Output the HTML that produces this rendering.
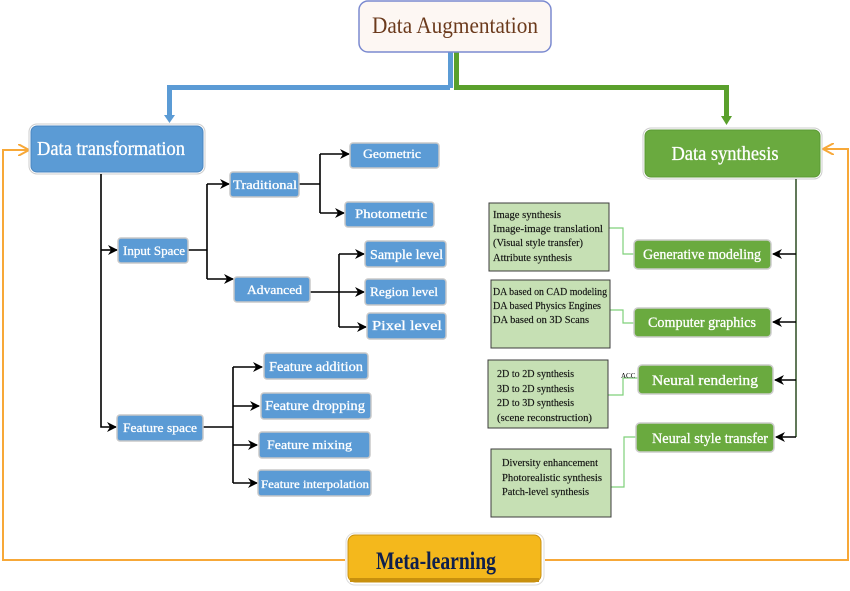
<!DOCTYPE html>
<html><head><meta charset="utf-8"><style>
html,body{margin:0;padding:0;background:#fff}
svg{display:block}
text{font-family:"Liberation Serif",serif}
</style></head><body>
<svg width="850" height="591" viewBox="0 0 850 591" xmlns="http://www.w3.org/2000/svg">
<defs>
<marker id="ak" markerWidth="10" markerHeight="10" refX="9" refY="5" orient="auto" markerUnits="userSpaceOnUse"><path d="M0,0 L10,5 L0,10 L3,5 Z" fill="#000"/></marker>
<marker id="ao" markerWidth="12" markerHeight="12" refX="11" refY="6" orient="auto" markerUnits="userSpaceOnUse"><path d="M0,0 L11,6 L0,12" fill="none" stroke="#f7a838" stroke-width="2"/></marker>
</defs>

<!-- top connector -->
<rect x="448" y="52" width="5" height="36" fill="#5b9bd5"/>
<rect x="454" y="52" width="5" height="36" fill="#5aa02c"/>
<rect x="170" y="85" width="280" height="5" fill="#5b9bd5"/>
<rect x="454" y="85" width="273" height="5" fill="#5aa02c"/>
<rect x="167" y="85" width="5" height="32" fill="#5b9bd5"/>
<path d="M164,115 L169.5,123 L175,115 Z" fill="#5b9bd5"/>
<rect x="724" y="85" width="5" height="33" fill="#5aa02c"/>
<path d="M721,116 L726.5,125 L732,116 Z" fill="#5aa02c"/>

<rect x="359" y="1" width="192" height="51" rx="9" fill="#fdf7f3" stroke="#7b8ad0" stroke-width="1.5"/>
<text x="455" y="33" font-size="23" fill="#6b3a1c" text-anchor="middle" textLength="166" lengthAdjust="spacingAndGlyphs">Data Augmentation</text>

<!-- orange loop -->
<path d="M345,560 L3,560 L3,150 L29,150" fill="none" stroke="#f7a838" stroke-width="2" marker-end="url(#ao)"/>
<path d="M545,560 L848,560 L848,149 L823,149" fill="none" stroke="#f7a838" stroke-width="2" marker-end="url(#ao)"/>

<!-- main boxes -->
<rect x="29" y="124" width="176" height="50" rx="8" fill="#fff" stroke="#ccc"/>
<rect x="31" y="126" width="172" height="46" rx="6" fill="#5b9bd5" stroke="#4a86c0"/>
<text x="37" y="155" font-size="20" fill="#fff" stroke="#fff" stroke-width="0.3" textLength="148" lengthAdjust="spacingAndGlyphs">Data transformation</text>

<rect x="643" y="128" width="179" height="51" rx="8" fill="#fff" stroke="#ccc"/>
<rect x="645" y="130" width="175" height="47" rx="6" fill="#6aaa3f" stroke="#5a9a33"/>
<text x="725" y="160" font-size="20" fill="#fff" stroke="#fff" stroke-width="0.3" text-anchor="middle" textLength="107" lengthAdjust="spacingAndGlyphs">Data synthesis</text>

<rect x="346" y="533" width="198" height="52" rx="9" fill="#fff" stroke="#ddd"/>
<rect x="348" y="535" width="193" height="47" rx="7" fill="#f4b81c" stroke="#c89010"/>
<rect x="350" y="578" width="189" height="4" fill="#c8900e"/>
<text x="436" y="569" font-size="25" font-weight="bold" fill="#0e1f4d" text-anchor="middle" textLength="120" lengthAdjust="spacingAndGlyphs">Meta-learning</text>

<!-- left tree lines -->
<g stroke="#000" stroke-width="1.6" fill="none">
<path d="M101,174 L101,427 L116,427" marker-end="url(#ak)"/>
<path d="M101,250 L117,250" marker-end="url(#ak)"/>
<path d="M188,250 L207,250 M207,184 L207,279"/>
<path d="M207,184 L229,184" marker-end="url(#ak)"/>
<path d="M207,279 L233,279" marker-end="url(#ak)"/>
<path d="M298,184 L320,184 M320,154 L320,213"/>
<path d="M320,154 L349,154" marker-end="url(#ak)"/>
<path d="M320,213 L344,213" marker-end="url(#ak)"/>
<path d="M309,292 L364,292" marker-end="url(#ak)"/>
<path d="M339,254 L339,327"/>
<path d="M339,254 L364,254" marker-end="url(#ak)"/>
<path d="M339,327 L366,327" marker-end="url(#ak)"/>
<path d="M202,427 L233,427 M233,367 L233,483"/>
<path d="M233,367 L262,367" marker-end="url(#ak)"/>
<path d="M233,406 L259,406" marker-end="url(#ak)"/>
<path d="M233,445 L257,445" marker-end="url(#ak)"/>
<path d="M233,483 L257,483" marker-end="url(#ak)"/>
</g>

<g font-size="13" fill="#fff">
<g stroke="#c8c8c8" stroke-width="1.5" fill="#5b9bd5">
<rect x="118" y="238" width="70" height="25" rx="3"/>
<rect x="230" y="172" width="69" height="25" rx="3"/>
<rect x="234" y="277" width="76" height="25" rx="3"/>
<rect x="350" y="143" width="89" height="25" rx="3"/>
<rect x="345" y="202" width="89" height="25" rx="3"/>
<rect x="365" y="241" width="81" height="26" rx="3"/>
<rect x="365" y="279" width="81" height="26" rx="3"/>
<rect x="367" y="313" width="79" height="26" rx="3"/>
<rect x="264" y="353" width="104" height="26" rx="3"/>
<rect x="261" y="393" width="110" height="26" rx="3"/>
<rect x="259" y="432" width="111" height="26" rx="3"/>
<rect x="258" y="470" width="113" height="26" rx="3"/>
<rect x="117" y="415" width="86" height="26" rx="3"/>
</g>
<g stroke="#fff" stroke-width="0.3">
<text x="123" y="255" textLength="62" lengthAdjust="spacingAndGlyphs">Input Space</text>
<text x="233" y="189" textLength="64" lengthAdjust="spacingAndGlyphs">Traditional</text>
<text x="247" y="294" textLength="55" lengthAdjust="spacingAndGlyphs">Advanced</text>
<text x="363" y="158" textLength="58" lengthAdjust="spacingAndGlyphs">Geometric</text>
<text x="355" y="218" textLength="72" lengthAdjust="spacingAndGlyphs">Photometric</text>
<text x="370" y="259" font-size="14" textLength="73" lengthAdjust="spacingAndGlyphs">Sample level</text>
<text x="370" y="296" textLength="68" lengthAdjust="spacingAndGlyphs">Region level</text>
<text x="372" y="330" font-size="14" textLength="70" lengthAdjust="spacingAndGlyphs">Pixel level</text>
<text x="269" y="371" font-size="14" textLength="94" lengthAdjust="spacingAndGlyphs">Feature addition</text>
<text x="265" y="410" font-size="14" textLength="100" lengthAdjust="spacingAndGlyphs">Feature dropping</text>
<text x="267" y="449" textLength="85" lengthAdjust="spacingAndGlyphs">Feature mixing</text>
<text x="261" y="488" font-size="12" textLength="108" lengthAdjust="spacingAndGlyphs">Feature interpolation</text>
<text x="123" y="432" textLength="74" lengthAdjust="spacingAndGlyphs">Feature space</text>
</g>
</g>

<!-- right side -->
<g stroke="#2d4d22" stroke-width="1.5" fill="none">
<path d="M796,179 L796,437"/>
</g>
<g stroke="#000" stroke-width="1.6" fill="none">
<path d="M796,254 L773,254" marker-end="url(#ak)"/>
<path d="M796,322 L773,322" marker-end="url(#ak)"/>
<path d="M796,380 L775,380" marker-end="url(#ak)"/>
<path d="M796,437 L776,437" marker-end="url(#ak)"/>
</g>
<g stroke="#7fd07a" stroke-width="1.2" fill="none">
<path d="M608,228 L623,228 L623,254 L634,254"/>
<path d="M610,310 L623,310 L623,323 L634,323"/>
<path d="M608,395 L623,395 L623,378 L638,378"/>
<path d="M610,487 L624,487 L624,437 L636,437"/>
</g>
<text x="621" y="378" font-size="7" fill="#000" font-family="Liberation Sans,sans-serif">ACC</text>

<g stroke="#ccc" stroke-width="1.5" fill="#6aaa3f">
<rect x="634" y="240" width="137" height="29" rx="4"/>
<rect x="634" y="308" width="137" height="29" rx="4"/>
<rect x="638" y="365" width="135" height="29" rx="4"/>
<rect x="636" y="423" width="138" height="29" rx="4"/>
</g>
<g font-size="15" fill="#fff" stroke="#fff" stroke-width="0.3">
<text x="643" y="259" textLength="118" lengthAdjust="spacingAndGlyphs">Generative modeling</text>
<text x="648" y="327" textLength="108" lengthAdjust="spacingAndGlyphs">Computer graphics</text>
<text x="652" y="385" textLength="106" lengthAdjust="spacingAndGlyphs">Neural rendering</text>
<text x="652" y="443" textLength="116" lengthAdjust="spacingAndGlyphs">Neural style transfer</text>
</g>

<g fill="#c6e0b4" stroke="#3d3d3d" stroke-width="1">
<rect x="489" y="203" width="120" height="68"/>
<rect x="491" y="280" width="119" height="68"/>
<rect x="488" y="360" width="120" height="68"/>
<rect x="491" y="449" width="120" height="68"/>
</g>
<g font-size="10.5" fill="#111" stroke="#111" stroke-width="0.15">
<text x="493" y="218" textLength="68" lengthAdjust="spacingAndGlyphs">Image synthesis</text>
<text x="493" y="232" textLength="110" lengthAdjust="spacingAndGlyphs">Image-image translationl</text>
<text x="493" y="246" textLength="90" lengthAdjust="spacingAndGlyphs">(Visual style transfer)</text>
<text x="493" y="261" textLength="79" lengthAdjust="spacingAndGlyphs">Attribute synthesis</text>
<text x="493" y="295" textLength="114" lengthAdjust="spacingAndGlyphs">DA based on CAD modeling</text>
<text x="493" y="309" textLength="108" lengthAdjust="spacingAndGlyphs">DA based Physics Engines</text>
<text x="493" y="323" textLength="96" lengthAdjust="spacingAndGlyphs">DA based on 3D Scans</text>
<text x="497" y="377" textLength="77" lengthAdjust="spacingAndGlyphs">2D to 2D synthesis</text>
<text x="497" y="392" textLength="77" lengthAdjust="spacingAndGlyphs">3D to 2D synthesis</text>
<text x="497" y="406" textLength="77" lengthAdjust="spacingAndGlyphs">2D to 3D synthesis</text>
<text x="497" y="421" textLength="95" lengthAdjust="spacingAndGlyphs">(scene reconstruction)</text>
<text x="502" y="466" textLength="96" lengthAdjust="spacingAndGlyphs">Diversity enhancement</text>
<text x="502" y="481" textLength="100" lengthAdjust="spacingAndGlyphs">Photorealistic synthesis</text>
<text x="502" y="495" textLength="87" lengthAdjust="spacingAndGlyphs">Patch-level synthesis</text>
</g>
</svg>
</body></html>
